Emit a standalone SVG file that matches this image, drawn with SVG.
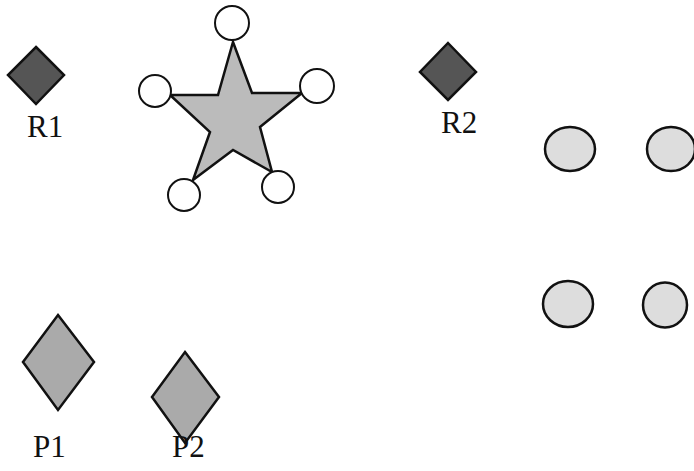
<svg xmlns="http://www.w3.org/2000/svg" width="694" height="471" viewBox="0 0 694 471">
<style>
.lbl{font-family:"Liberation Serif","Times New Roman",serif;font-size:31px;fill:#111}
.rdia{fill:#555;stroke:#111;stroke-width:2.5}
.pdia{fill:#aaa;stroke:#111;stroke-width:2.5}
.star{fill:#bbb;stroke:#111;stroke-width:2.5;stroke-linejoin:miter}
.sc{fill:#fff;stroke:#111;stroke-width:2}
.gc{fill:#ddd;stroke:#111;stroke-width:2.5}
</style>
<rect width="694" height="471" fill="#fff"/>
<g id="R1">
<polygon class="rdia" points="36,47 64,75 36,104 8,75"/>
<text class="lbl" x="27" y="137">R1</text>
</g>
<g id="star">
<polygon class="star" points="233,42 252,93 302,93 260,127 272,172 233,150 193,180 210,132 170,95 218,95"/>
</g>
<g id="star-nodes">
<circle class="sc" cx="232" cy="23" r="17"/>
<circle class="sc" cx="155" cy="91" r="16"/>
<circle class="sc" cx="317" cy="86" r="17"/>
<circle class="sc" cx="184" cy="195" r="16"/>
<circle class="sc" cx="278" cy="187" r="16"/>
</g>
<g id="R2">
<polygon class="rdia" points="448,43 476,72 448,100 420,72"/>
<text class="lbl" x="441" y="133">R2</text>
</g>
<g id="circles">
<ellipse class="gc" cx="570" cy="149" rx="25" ry="22"/>
<ellipse class="gc" cx="671" cy="149" rx="24" ry="22"/>
<ellipse class="gc" cx="568" cy="304" rx="25" ry="23"/>
<ellipse class="gc" cx="665" cy="305" rx="22" ry="22.5"/>
</g>
<g id="P1">
<polygon class="pdia" points="58,315 94,362 58,410 23,362"/>
<text class="lbl" x="33" y="457">P1</text>
</g>
<g id="P2">
<polygon class="pdia" points="185,352 219,397 185,443 152,397"/>
<text class="lbl" x="172" y="457">P2</text>
</g>
<g id="connectors"></g>
</svg>
